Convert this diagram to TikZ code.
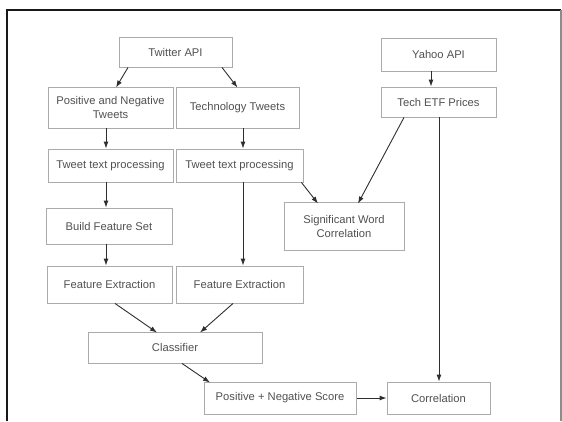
\documentclass[tikz,border=0pt]{standalone}
\usepackage{fontspec}
\setmainfont{Liberation Sans}
\usetikzlibrary{arrows.meta,calc}
\definecolor{boxline}{HTML}{ABABAB}
\definecolor{txt}{HTML}{505050}
\definecolor{arr}{HTML}{2E2E2E}
\begin{document}
\begin{tikzpicture}[x=1pt,y=-1pt,
  box/.style={draw=boxline,line width=0.9pt,inner sep=0pt,align=center,text=txt,
    font=\fontsize{11.2}{14}\selectfont},
  conn/.style={draw=arr,line width=0.9pt,-{Latex[length=7pt,width=5pt]}},
  frameblk/.style={draw=black!90,line width=2pt},
  framegry/.style={draw=black!45,line width=1.2pt}]
\useasboundingbox (0,0) rectangle (562,421);
% frame
\draw[frameblk] (6.7,421) -- (6.7,10.2) -- (561,10.2);
\draw[framegry] (561,10.2) -- (561,421);
% nodes
\node[box,minimum width=113pt,minimum height=30pt] (tw) at (175.5,52) {Twitter API};
\node[box,minimum width=115pt,minimum height=33pt] (ya) at (438.5,54.5) {Yahoo API};
\node[box,minimum width=115pt,minimum height=30pt] (te) at (438.5,102) {Tech ETF Prices};
\node[box,minimum width=125pt,minimum height=41pt] (pn) at (110.5,107.5) {Positive and Negative\\Tweets};
\node[box,minimum width=123pt,minimum height=41pt] (tt) at (237.5,107.5) {Technology Tweets};
\node[box,minimum width=125pt,minimum height=33pt] (tp1) at (110.5,165.5) {Tweet text processing};
\node[box,minimum width=127pt,minimum height=33pt] (tp2) at (239.5,165.5) {Tweet text processing};
\node[box,minimum width=126pt,minimum height=36pt] (bf) at (109,226) {Build Feature Set};
\node[box,minimum width=120pt,minimum height=48pt] (sw) at (344,226) {Significant Word\\Correlation};
\node[box,minimum width=125pt,minimum height=37pt] (fe1) at (109.5,284.5) {Feature Extraction};
\node[box,minimum width=127pt,minimum height=37pt] (fe2) at (239.5,284.5) {Feature Extraction};
\node[box,minimum width=174pt,minimum height=31pt] (cl) at (175,347.5) {Classifier};
\node[box,minimum width=152pt,minimum height=32pt] (ps) at (280,398) {Positive + Negative Score};
\node[box,minimum width=103pt,minimum height=32pt] (co) at (438.5,398) {Correlation};
% connectors
\draw[conn] ([xshift=-47.5pt]tw.south) -- ([xshift=5.5pt,yshift=-1pt]pn.north);
\draw[conn] ([xshift=46.5pt]tw.south) -- ([yshift=-1pt]tt.north);
\draw[conn] ([xshift=-7.5pt]ya.south) -- ([xshift=-7.5pt]te.north);
\draw[conn] ([xshift=-4.5pt]pn.south) -- ([xshift=-4.5pt]tp1.north);
\draw[conn] ([xshift=5.5pt]tt.south) -- ([xshift=3.5pt]tp2.north);
\draw[conn] ([xshift=-34.5pt]te.south) -- ([xshift=14pt,yshift=-2pt]sw.north);
\draw[conn] ([xshift=0.5pt]te.south) -- ([xshift=0.5pt]co.north);
\draw[conn] ([xshift=-2pt]tp2.south east) -- ([xshift=-26pt,yshift=-2pt]sw.north);
\draw[conn] ([xshift=-4.5pt]tp1.south) -- ([xshift=-3pt]bf.north);
\draw[conn] ([xshift=3.5pt]tp2.south) -- ([xshift=3.5pt]fe2.north);
\draw[conn] ([xshift=-3pt]bf.south) -- ([xshift=-3.5pt]fe1.north);
\draw[conn] ([xshift=5.5pt]fe1.south) -- ([xshift=-18pt,yshift=-1pt]cl.north);
\draw[conn] ([xshift=-6.5pt]fe2.south) -- ([xshift=25pt,yshift=-1pt]cl.north);
\draw[conn] ([xshift=7pt]cl.south) -- ([xshift=-70pt,yshift=-1pt]ps.north);
\draw[conn] ([xshift=1pt]ps.east) -- (co.west);
\end{tikzpicture}
\end{document}
